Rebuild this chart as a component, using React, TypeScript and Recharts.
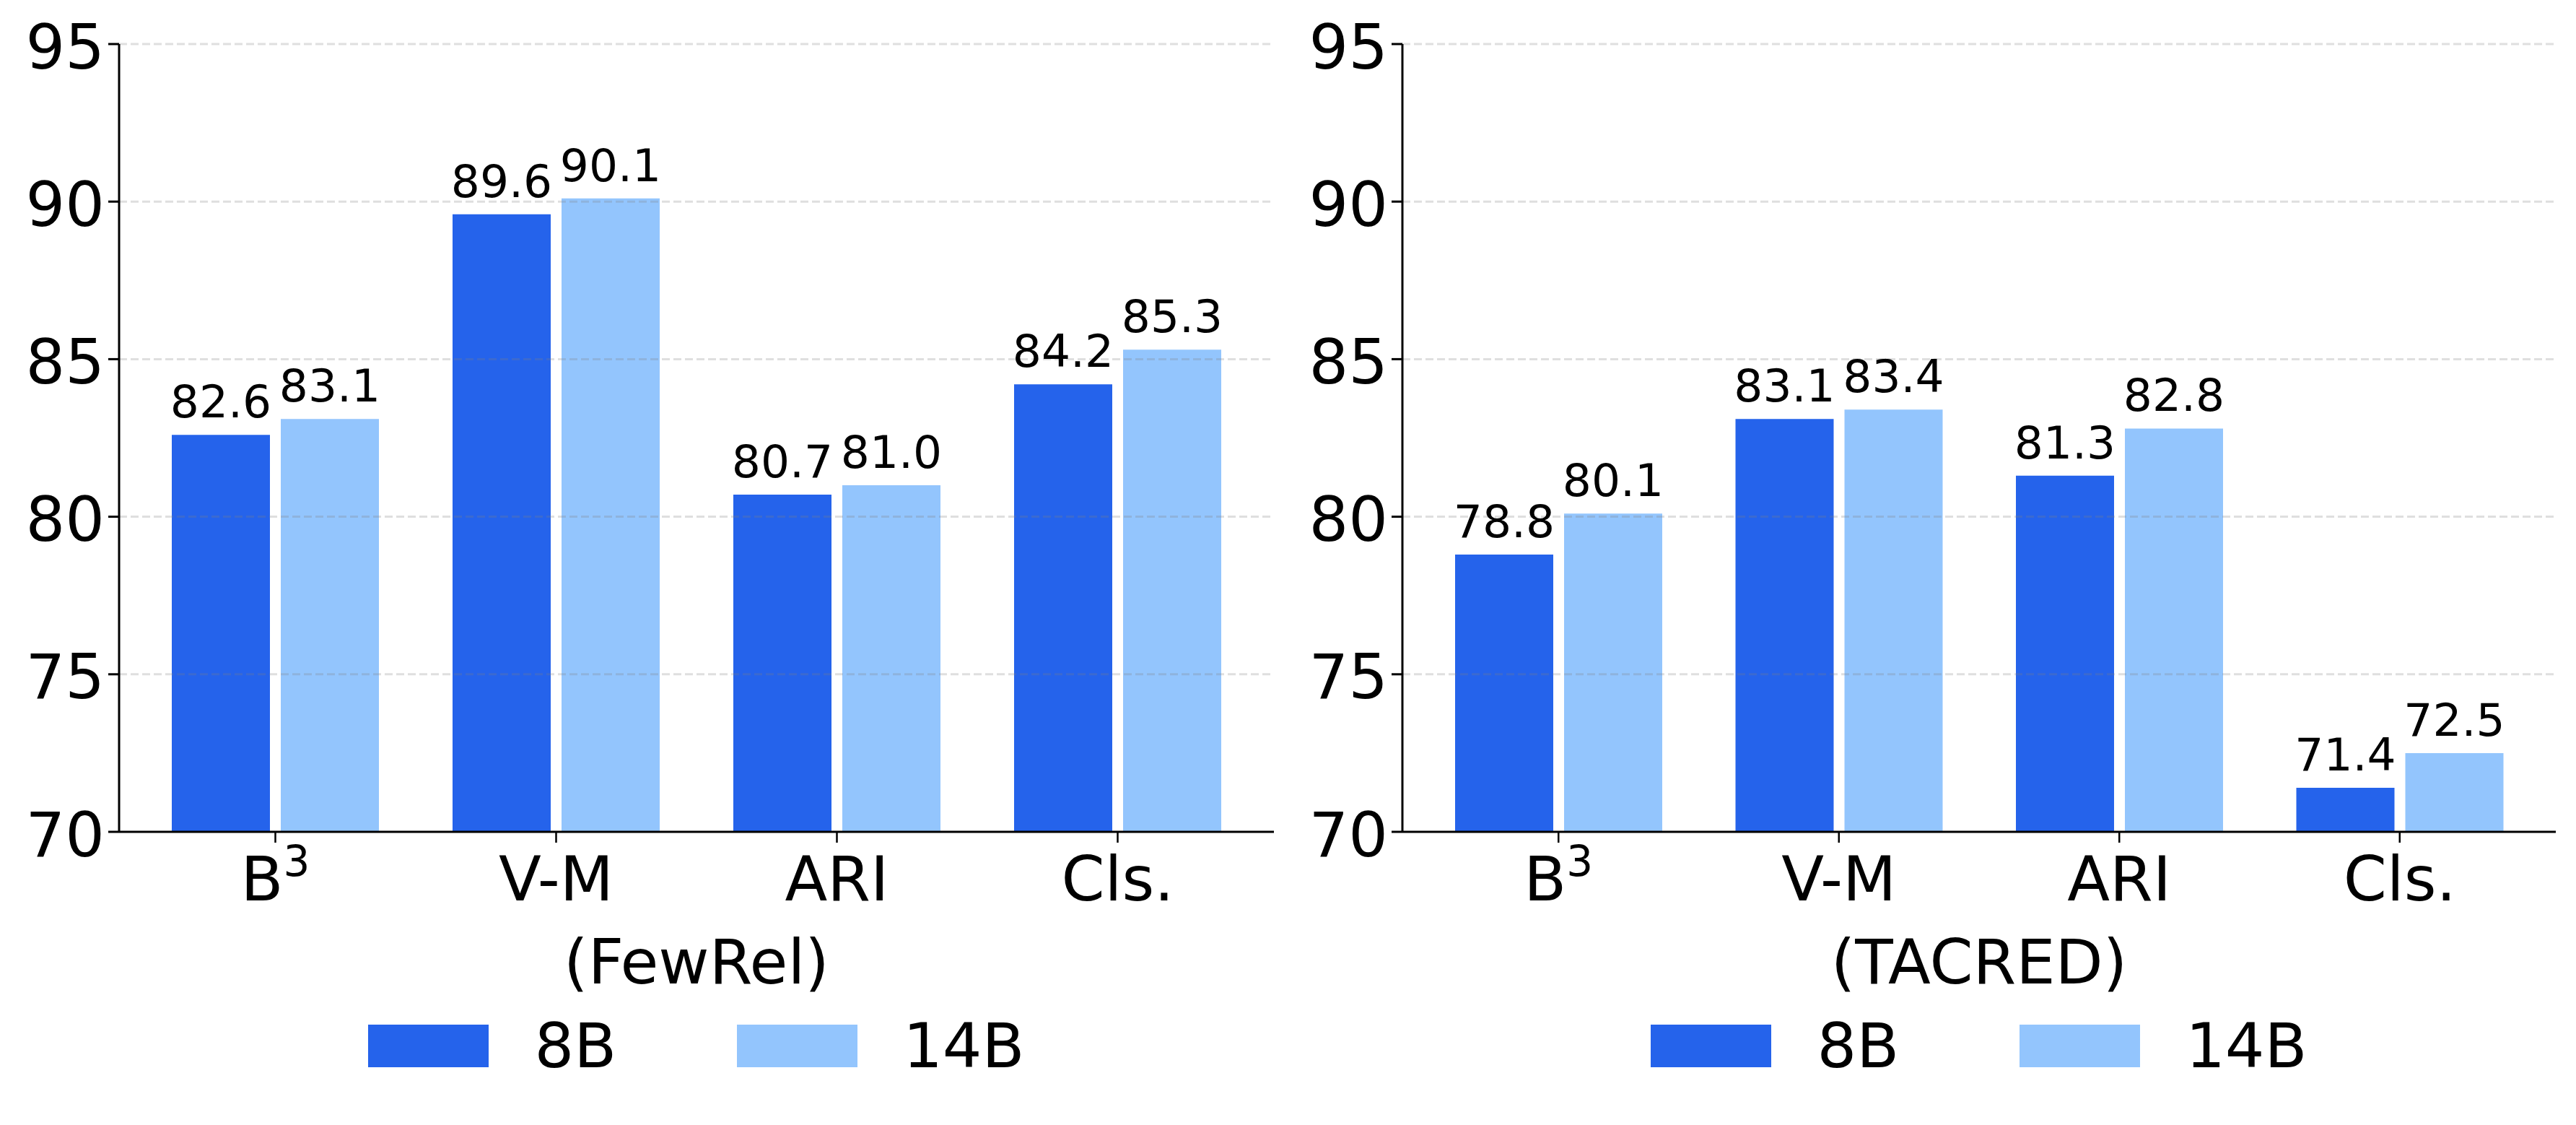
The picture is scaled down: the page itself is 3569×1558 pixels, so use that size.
import React from "react";
import { BarChart, Bar, XAxis, YAxis, ReferenceLine, LabelList } from "recharts";

const FONT = "'DejaVu Sans', sans-serif";

const categories = ["B^3", "V-M", "ARI", "Cls."];
const fewrel8b = [82.6, 89.6, 80.7, 84.2];
const fewrel14b = [83.1, 90.1, 81.0, 85.3];
const tacred8b = [78.8, 83.1, 81.3, 71.4];
const tacred14b = [80.1, 83.4, 82.8, 72.5];
const yTicks = [70, 75, 80, 85, 90, 95];
const seriesNames = ["8B", "14B"];
const seriesColors = ["#2563EB", "#93C5FD"];

const W = 3569;
const H = 1558;
const PLOT_TOP = 61;
const PLOT_BOTTOM = 1152;
const Y_AXIS_W = 120;
const X_AXIS_H = 120;

// "B^3" -> B with a superscript 3
function CatTick(props: any) {
  const { x, y, payload } = props;
  const [base, sup] = String(payload.value).split("^");
  return (
    <text x={x} y={y} dy={61} textAnchor="middle" fontSize={86} fill="#000" fontFamily={FONT}>
      <tspan>{base}</tspan>
      {sup ? (
        <tspan dy={-34} fontSize={58}>
          {sup}
        </tspan>
      ) : null}
    </text>
  );
}

function Legend8v14({ left, width }: { left: number; width: number }) {
  return (
    <div
      style={{
        position: "absolute",
        left,
        width,
        top: 1405,
        height: 86,
        display: "flex",
        justifyContent: "center",
        alignItems: "center",
        fontFamily: FONT,
        fontSize: 86,
        lineHeight: "86px",
        color: "#000",
      }}
    >
      {seriesNames.map((n, i) => (
        <div key={n} style={{ display: "flex", alignItems: "center", marginLeft: i ? 167 : 0 }}>
          <div style={{ width: 167, height: 59, background: seriesColors[i], marginRight: 63 }} />
          <span>{n}</span>
        </div>
      ))}
    </div>
  );
}

function Panel({
  title,
  small,
  large,
  left,
  width,
  padLeft,
  padRight,
}: {
  title: string;
  small: number[];
  large: number[];
  left: number;
  width: number;
  padLeft: number;
  padRight: number;
}) {
  const data = categories.map((name, i) => ({ name, m8: small[i], m14: large[i] }));
  const plotLeft = left + padLeft + Y_AXIS_W;
  const plotWidth = width - padLeft - Y_AXIS_W - padRight;
  return (
    <>
      <div style={{ position: "absolute", left, top: 0 }}>
        <BarChart
          width={width}
          height={H}
          data={data}
          barSize={136}
          barGap={15}
          margin={{ top: PLOT_TOP, right: padRight, left: padLeft, bottom: H - PLOT_BOTTOM - X_AXIS_H }}
        >
          <XAxis
            dataKey="name"
            type="category"
            height={X_AXIS_H}
            padding={{ left: 22, right: 22 }}
            axisLine={{ stroke: "#000", strokeWidth: 3 }}
            tickLine={{ stroke: "#000", strokeWidth: 2.5 }}
            tickSize={15}
            tickMargin={19}
            tick={(p: any) => <CatTick {...p} />}
            interval={0}
            label={{
              value: title,
              position: "bottom",
              offset: 29,
              fontSize: 86,
              fill: "#000",
              fontFamily: FONT,
            }}
          />
          <YAxis
            type="number"
            domain={[70, 95]}
            ticks={yTicks}
            width={Y_AXIS_W}
            allowDataOverflow
            axisLine={{ stroke: "#000", strokeWidth: 3 }}
            tickLine={{ stroke: "#000", strokeWidth: 3 }}
            tickSize={15}
            tickMargin={5}
            tick={{ fontSize: 86, fill: "#000", fontFamily: FONT, dy: 3 }}
          />
          <Bar dataKey="m8" name={seriesNames[0]} fill={seriesColors[0]} isAnimationActive={false}>
            <LabelList
              dataKey="m8"
              position="top"
              offset={24}
              formatter={(v: any) => Number(v).toFixed(1)}
              style={{ fontSize: 63, fill: "#000", fontFamily: FONT }}
            />
          </Bar>
          <Bar dataKey="m14" name={seriesNames[1]} fill={seriesColors[1]} isAnimationActive={false}>
            <LabelList
              dataKey="m14"
              position="top"
              offset={24}
              formatter={(v: any) => Number(v).toFixed(1)}
              style={{ fontSize: 63, fill: "#000", fontFamily: FONT }}
            />
          </Bar>
          {yTicks.slice(1).map((t) => (
            <ReferenceLine
              key={t}
              y={t}
              stroke="#808080"
              strokeOpacity={0.25}
              strokeWidth={3}
              strokeDasharray="11 5"
            />
          ))}
        </BarChart>
      </div>
      <Legend8v14 left={plotLeft} width={plotWidth} />
    </>
  );
}

export default function App() {
  return (
    <div
      style={{
        position: "absolute",
        left: 0,
        top: 0,
        width: W,
        height: H,
        background: "#fff",
        overflow: "hidden",
        fontFamily: FONT,
      }}
    >
      <Panel title="(FewRel)" small={fewrel8b} large={fewrel14b} left={0} width={1785} padLeft={45} padRight={20} />
      <Panel title="(TACRED)" small={tacred8b} large={tacred14b} left={1785} width={1784} padLeft={38} padRight={28} />
    </div>
  );
}
